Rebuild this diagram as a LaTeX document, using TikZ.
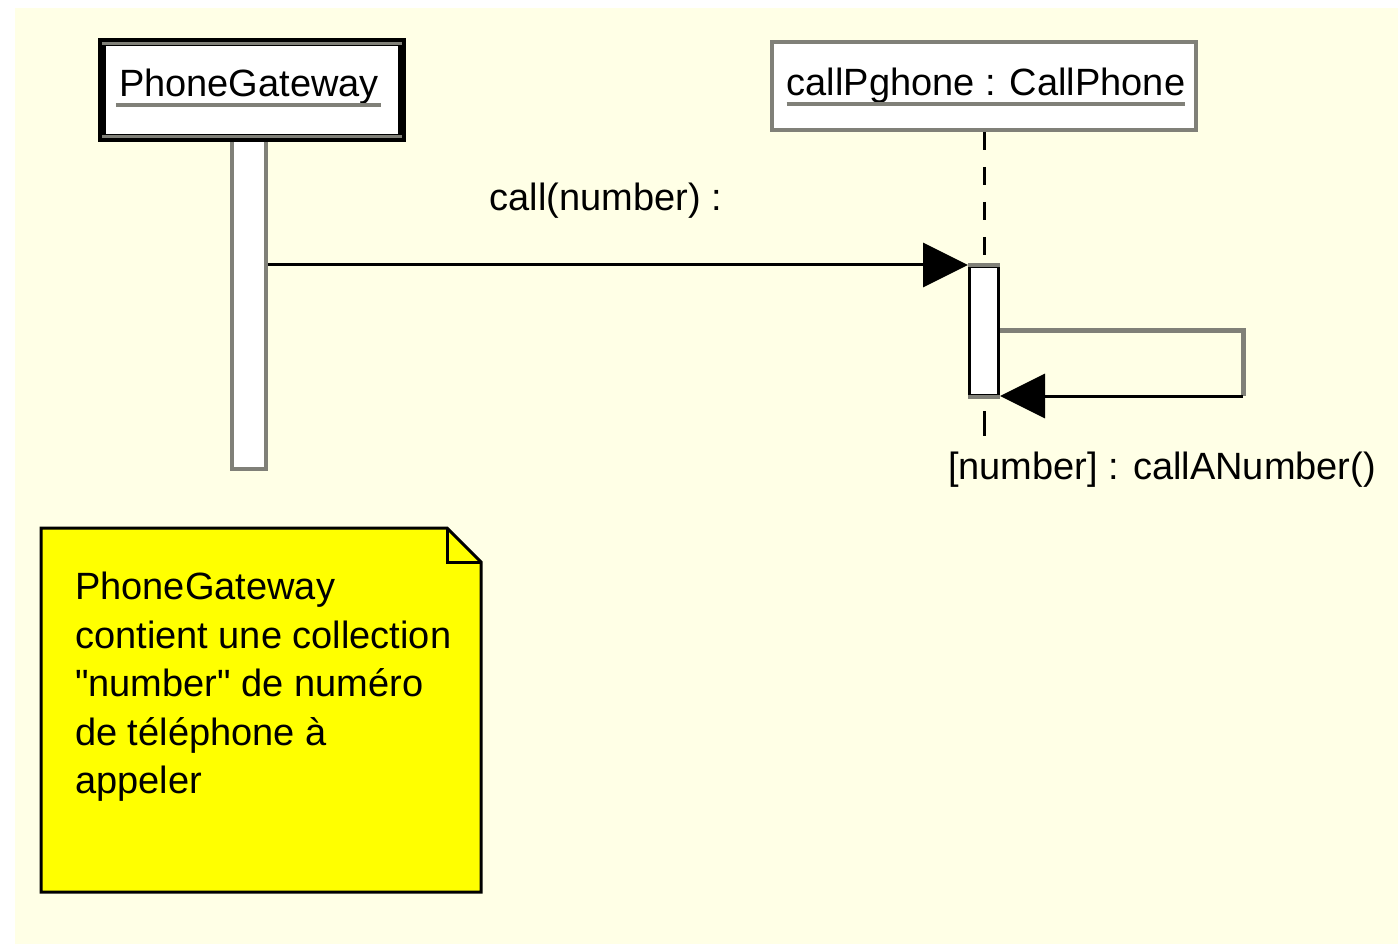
\documentclass[tikz,border=0pt]{standalone}
\usepackage{fontspec}
\setmainfont{Liberation Sans}
\usepackage{xcolor}
\usepackage{tikz}
\usetikzlibrary{calc,arrows.meta}
\definecolor{UMLGray}{RGB}{128,128,120}
\definecolor{PaperYellow}{RGB}{255,255,230}
\definecolor{NoteYellow}{RGB}{255,255,0}
\tikzset{
    umltext/.style={inner sep=0pt, font=\fontsize{38}{48.5}\selectfont},
    underline/.style={draw=UMLGray, line width=4pt},
    message/.style={draw=black, line width=3pt, -{Triangle[length=45pt, width=44pt]}}
}

\begin{document}
\begin{tikzpicture}[
        x=1pt, y=-1pt,
        % Style cho hộp lớp chính (viền đen dày)
        mainbox/.style={
            rectangle,
            draw=black,
            line width=8pt,
            fill=white,
            minimum width=300pt,
            minimum height=96pt,
            inner sep=0pt
        },
        % Style cho hộp đối tượng (viền xám)
        objbox/.style={
            rectangle,
            draw=UMLGray,
            line width=4pt,
            fill=white,
            minimum width=424pt,
            minimum height=88pt,
            inner sep=0pt
        },
        % Style cho thanh kích hoạt
        actbar/.style={
            rectangle,
            fill=white,
            inner sep=0pt
        },
        % Style cho đường đời nét đứt
        lifeline/.style={
            draw=black,
            line width=3pt,
            dash pattern=on 18pt off 17pt
        }
    ]

        % --- NỀN ---
        \useasboundingbox (0,0) rectangle (1398,944);
        \fill[PaperYellow] (15,8) rectangle (1398,944);

        % --- ĐỐI TƯỢNG PhoneGateway ---
        \node[actbar, draw=UMLGray, line width=4pt, minimum width=34pt, minimum height=330pt] (gwbar) at (249,304) {};
        \node[mainbox] (gw) at (252,90) {};
        \draw[UMLGray, line width=3pt] ([shift={(4pt,-5.5pt)}]gw.north west) -- ([shift={(-4pt,-5.5pt)}]gw.north east);
        \draw[UMLGray, line width=3pt] ([shift={(4pt,5.5pt)}]gw.south west) -- ([shift={(-4pt,5.5pt)}]gw.south east);
        \node[umltext, anchor=base] (gwtext) at (249,97) {PhoneGateway};
        \draw[underline] ([shift={(-3pt,-8pt)}]gwtext.base west) -- ([shift={(2pt,-8pt)}]gwtext.base east);

        % --- ĐỐI TƯỢNG callPghone ---
        \node[objbox] (cp) at (984,86) {};
        \node[umltext, anchor=base] (cptext) at (986,96) {callPghone : CallPhone};
        \draw[underline] ([yshift=-8pt]cptext.base west) -- ([yshift=-8pt]cptext.base east);
        \node[actbar, draw=black, line width=3pt, minimum width=29pt, minimum height=129pt] (cpbar) at (984,331) {};
        \draw[UMLGray, line width=4pt] (cpbar.north west) -- (cpbar.north east);
        \draw[UMLGray, line width=4pt] (cpbar.south west) -- (cpbar.south east);
        \coordinate (cpend) at (984,436);
        \draw[lifeline] (cp.south) -- (cpbar.north);
        \draw[lifeline, dash pattern=on 0pt off 14pt on 30pt] (cpbar.south) -- (cpend);

        % --- THÔNG ĐIỆP ---
        \draw[message] (gwbar.east |- cpbar.north) -- (cpbar.north west);
        \node[umltext] (calllbl) at (606,201) {call(number) :};

        \coordinate (loopA) at (1243,330);
        \coordinate (loopB) at (1243,396);
        \draw[UMLGray, line width=5pt] (cpbar.east |- loopA) -- (loopA) -- (loopB);
        \draw[message] (loopB) -- (cpbar.east |- loopB);
        \node[umltext] (selflbl) at (1162,470) {[number] : callANumber()};

        % --- GHI CHÚ ---
        \draw[black, line width=3pt, fill=NoteYellow, line join=miter]
            (41,528) -- (447,528) -- (481,562) -- (481,892) -- (41,892) -- cycle;
        \draw[black, line width=3pt] (447,528) -- (447,562) -- (481,562);
        \node[umltext, anchor=north west, align=left] (notetext) at (75,572)
            {PhoneGateway\\contient une collection\\\textquotedbl number\textquotedbl{} de numéro\\de téléphone à\\appeler};

    \end{tikzpicture}
\end{document}
